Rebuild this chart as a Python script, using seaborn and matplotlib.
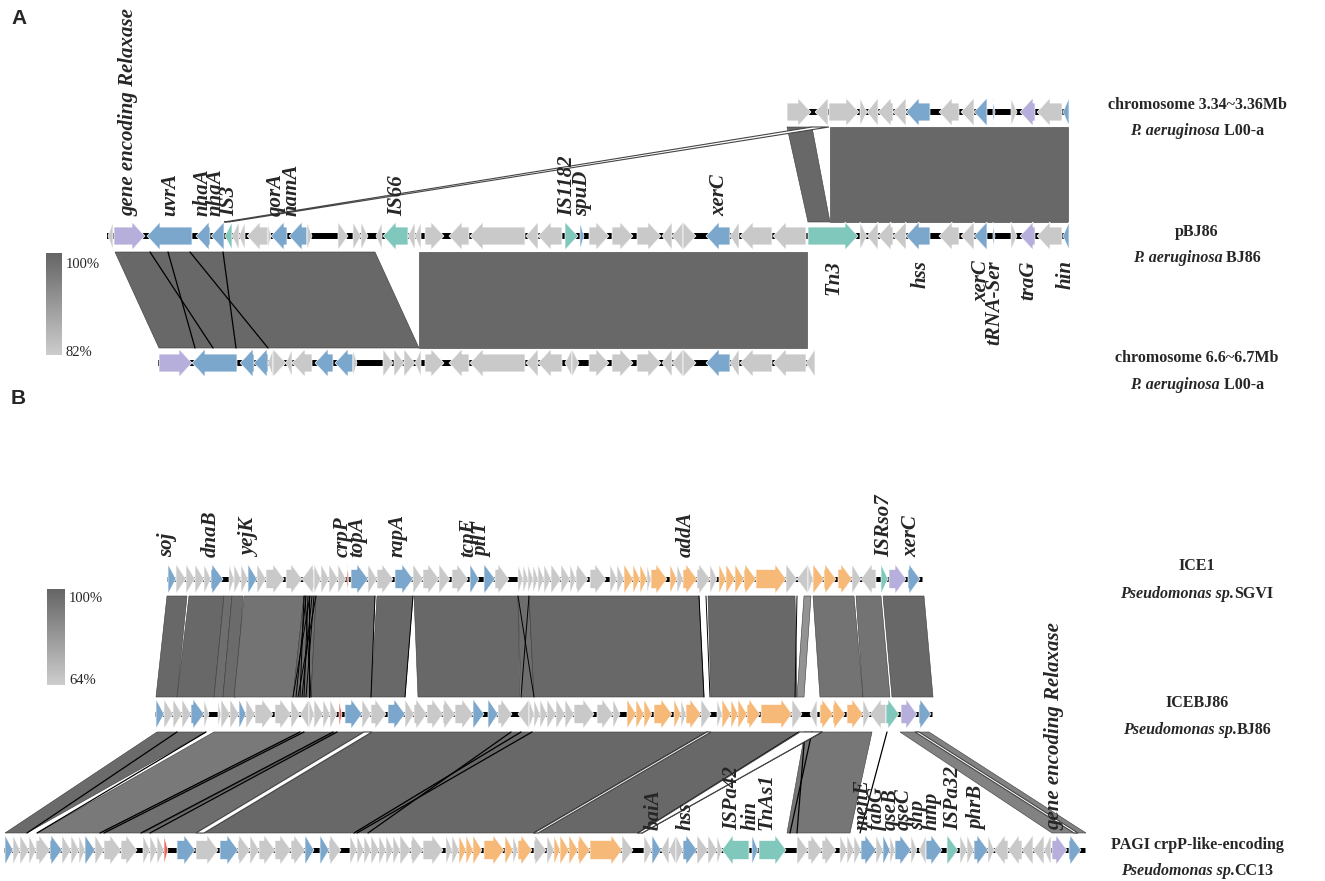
import numpy as np
import matplotlib
matplotlib.use('Agg')
import matplotlib.pyplot as plt
import seaborn as sns
from matplotlib.patches import Polygon
from matplotlib.colors import LinearSegmentedColormap, Normalize

sns.set_theme(style='white')
plt.rcParams['font.family'] = ['Liberation Serif', 'DejaVu Serif']

# ---------------- colours by gene class ----------------
kind_colors = {'g': '#c9c9c9', 'b': '#7ba7cd', 'p': '#b6aedb',
               't': '#80c8bb', 'o': '#f7b977', 'r': '#ea6a5c'}

# ---------------- Panel A genes: (start, end, strand, class) ----------------
A1_genes = [(787, 811, 1, 'g'), (815, 828, -1, 'g'), (829, 859, 1, 'g'),
            (860, 867, 1, 'g'), (867, 878, -1, 'g'), (878, 893, -1, 'g'), (893, 906, -1, 'g'),
            (906, 930, -1, 'b'), (939, 959, -1, 'g'), (961, 974, -1, 'g'), (974, 987, -1, 'b'),
            (993, 995, 1, 'b'), (1011, 1017, 1, 'g'), (1020, 1035, -1, 'p'), (1037, 1062, -1, 'g'),
            (1063, 1069, -1, 'b')]

A2_genes = [(108, 113, -1, 'g'), (114, 145, 1, 'p'), (147, 192, -1, 'b'), (196, 210, -1, 'b'),
            (211, 224, -1, 'b'), (225, 232, -1, 't'), (232, 239, -1, 'g'), (239, 245, -1, 'g'),
            (247, 268, -1, 'g'), (268, 271, 1, 'g'), (271, 287, -1, 'b'), (289, 307, -1, 'b'),
            (307, 312, 1, 'g'), (338, 348, 1, 'g'), (353, 361, 1, 'g'), (361, 368, 1, 'g'),
            (376, 382, -1, 'g'), (383, 408, -1, 't'), (408, 415, -1, 'g'), (415, 421, -1, 'g'),
            (425, 444, 1, 'g'), (449, 469, -1, 'g'), (470, 525, -1, 'g'), (526, 538, -1, 'g'),
            (538, 562, -1, 'g'), (565, 578, 1, 't'), (580, 584, 1, 'b'), (589, 609, 1, 'g'),
            (612, 633, 1, 'g'), (637, 661, 1, 'g'), (662, 672, -1, 'g'), (672, 683, -1, 'g'),
            (683, 696, 1, 'g'), (706, 730, -1, 'b'), (730, 739, -1, 'g'), (740, 772, -1, 'g'),
            (773, 806, -1, 'g'), (808, 858, 1, 't'), (860, 867, 1, 'g'), (867, 878, -1, 'g'),
            (878, 893, -1, 'g'), (893, 906, -1, 'g'), (906, 930, -1, 'b'), (939, 959, -1, 'g'),
            (961, 974, -1, 'g'), (974, 987, -1, 'b'), (993, 995, 1, 'b'), (1011, 1017, 1, 'g'),
            (1020, 1035, -1, 'p'), (1037, 1062, -1, 'g'), (1063, 1069, -1, 'b')]

A3_genes = [(159, 192, 1, 'p'), (192, 237, -1, 'b'), (240, 254, -1, 'b'), (254, 268, -1, 'b'),
            (268, 273, -1, 'g'), (273, 286, 1, 'g'), (286, 292, -1, 'g'), (292, 312, -1, 'g'),
            (315, 333, -1, 'b'), (335, 353, -1, 'b'), (353, 357, 1, 'g'), (383, 393, 1, 'g'),
            (394, 404, 1, 'g'), (404, 415, 1, 'g'), (415, 421, -1, 'g'), (425, 444, 1, 'g'),
            (449, 469, -1, 'g'), (470, 525, -1, 'g'), (526, 538, -1, 'g'), (538, 562, -1, 'g'),
            (565, 572, -1, 'g'), (572, 579, 1, 'g'), (589, 609, 1, 'g'), (612, 633, 1, 'g'),
            (637, 661, 1, 'g'), (662, 672, -1, 'g'), (672, 683, -1, 'g'), (683, 696, 1, 'g'),
            (706, 730, -1, 'b'), (730, 739, -1, 'g'), (740, 772, -1, 'g'), (773, 806, -1, 'g'),
            (806, 815, -1, 'g')]

# ---------------- Panel B genes ----------------
B1_genes = [(168, 176, 1, 'b'), (176, 186, 1, 'g'), (186, 195, 1, 'g'), (195, 204, 1, 'g'),
            (204, 211, 1, 'g'), (211, 223, 1, 'b'), (229, 234, 1, 'g'), (234, 241, 1, 'g'),
            (241, 248, 1, 'g'), (248, 257, 1, 'b'), (257, 266, 1, 'g'), (266, 284, 1, 'g'),
            (286, 302, 1, 'g'), (302, 314, -1, 'g'), (314, 321, 1, 'g'), (321, 329, 1, 'g'),
            (329, 338, 1, 'g'), (338, 346, 1, 'g'), (347, 349, 1, 'r'), (351, 368, 1, 'b'),
            (368, 377, 1, 'g'), (377, 393, 1, 'g'), (395, 413, 1, 'b'), (413, 423, 1, 'g'),
            (423, 439, 1, 'g'), (439, 450, 1, 'g'), (452, 468, 1, 'g'), (470, 479, 1, 'b'),
            (484, 495, 1, 'b'), (495, 509, 1, 'g'), (518, 523, 1, 'g'), (523, 528, 1, 'g'),
            (528, 533, 1, 'g'), (533, 538, 1, 'g'), (538, 544, 1, 'g'), (544, 551, 1, 'g'),
            (551, 561, 1, 'g'), (561, 570, 1, 'g'), (570, 576, 1, 'g'), (576, 588, 1, 'g'),
            (590, 606, 1, 'g'), (610, 617, 1, 'g'), (617, 624, 1, 'g'), (624, 633, 1, 'o'),
            (633, 640, 1, 'o'), (640, 647, 1, 'o'), (647, 651, 1, 'g'), (651, 667, 1, 'o'),
            (670, 677, 1, 'o'), (677, 683, 1, 'g'), (683, 697, 1, 'o'), (697, 710, 1, 'g'),
            (710, 717, 1, 'g'), (719, 726, 1, 'o'), (726, 735, 1, 'o'), (735, 744, 1, 'o'),
            (744, 756, 1, 'o'), (756, 786, 1, 'o'), (786, 797, 1, 'g'), (797, 808, -1, 'g'),
            (808, 813, 1, 'g'), (813, 824, 1, 'o'), (824, 836, 1, 'o'), (838, 852, 1, 'o'),
            (852, 861, 1, 'g'), (861, 876, -1, 'g'), (881, 888, 1, 't'), (889, 906, 1, 'p'),
            (908, 920, 1, 'b')]

B2_genes = [(156, 164, 1, 'b'), (164, 173, 1, 'g'), (173, 182, 1, 'g'), (182, 191, 1, 'g'),
            (191, 204, 1, 'b'), (204, 209, 1, 'g'), (218, 221, 1, 'g'), (221, 230, 1, 'g'),
            (230, 239, 1, 'g'), (239, 246, 1, 'b'), (246, 255, 1, 'g'), (255, 273, 1, 'g'),
            (275, 291, 1, 'g'), (291, 300, 1, 'g'), (300, 309, -1, 'g'), (309, 314, 1, 'g'),
            (314, 323, 1, 'g'), (323, 330, 1, 'g'), (330, 337, 1, 'g'), (339, 342, 1, 'r'),
            (345, 362, 1, 'b'), (362, 371, 1, 'g'), (371, 386, 1, 'g'), (388, 405, 1, 'b'),
            (405, 414, 1, 'g'), (414, 427, 1, 'g'), (427, 443, 1, 'g'), (443, 455, 1, 'g'),
            (455, 473, 1, 'g'), (473, 484, 1, 'b'), (488, 498, 1, 'b'), (498, 512, 1, 'g'),
            (518, 529, -1, 'g'), (529, 534, 1, 'g'), (534, 540, 1, 'g'), (540, 547, 1, 'g'),
            (547, 556, 1, 'g'), (556, 565, 1, 'g'), (565, 574, 1, 'g'), (574, 594, 1, 'g'),
            (597, 613, 1, 'g'), (613, 620, 1, 'g'), (627, 636, 1, 'o'), (636, 644, 1, 'o'),
            (644, 652, 1, 'o'), (654, 672, 1, 'o'), (674, 681, 1, 'o'), (681, 686, 1, 'g'),
            (686, 701, 1, 'o'), (701, 711, 1, 'g'), (717, 722, 1, 'g'), (722, 731, 1, 'o'),
            (731, 738, 1, 'o'), (738, 747, 1, 'o'), (747, 760, 1, 'o'), (761, 792, 1, 'o'),
            (792, 802, 1, 'g'), (810, 817, -1, 'g'), (820, 833, 1, 'o'), (833, 845, 1, 'o'),
            (847, 863, 1, 'o'), (863, 870, 1, 'g'), (870, 886, -1, 'g'), (886, 899, 1, 't'),
            (901, 917, 1, 'p'), (919, 931, 1, 'b')]

B3_genes = [(5, 13, 1, 'b'), (13, 20, 1, 'g'), (20, 29, 1, 'g'), (29, 36, 1, 'g'), (36, 50, 1, 'g'),
            (50, 62, 1, 'b'), (62, 71, 1, 'g'), (71, 79, 1, 'g'), (79, 85, 1, 'g'), (85, 95, 1, 'b'),
            (95, 104, 1, 'g'), (104, 121, 1, 'g'), (121, 137, 1, 'g'), (143, 150, 1, 'g'),
            (150, 157, 1, 'g'), (157, 164, 1, 'g'), (164, 168, 1, 'r'), (177, 195, 1, 'b'),
            (196, 218, 1, 'g'), (220, 238, 1, 'b'), (238, 250, 1, 'g'), (250, 259, 1, 'g'),
            (259, 275, 1, 'g'), (275, 291, 1, 'g'), (291, 305, 1, 'g'), (305, 314, 1, 'b'),
            (320, 329, 1, 'b'), (329, 341, 1, 'g'), (350, 357, 1, 'g'), (357, 364, 1, 'g'),
            (364, 371, 1, 'g'), (371, 379, 1, 'g'), (379, 386, 1, 'g'), (386, 393, 1, 'g'),
            (393, 400, 1, 'g'), (400, 411, 1, 'g'), (411, 423, 1, 'g'), (423, 443, 1, 'g'),
            (446, 452, 1, 'g'), (452, 459, 1, 'g'), (459, 466, 1, 'o'), (466, 473, 1, 'o'),
            (473, 482, 1, 'o'), (484, 504, 1, 'o'), (505, 513, 1, 'o'), (513, 518, 1, 'g'),
            (518, 532, 1, 'o'), (534, 546, 1, 'g'), (547, 554, 1, 'g'), (554, 560, 1, 'o'),
            (560, 569, 1, 'o'), (569, 578, 1, 'o'), (578, 590, 1, 'o'), (590, 622, 1, 'o'),
            (622, 633, 1, 'g'), (644, 652, 1, 'g'), (652, 661, 1, 'b'), (661, 669, -1, 'g'),
            (669, 676, -1, 'g'), (676, 683, 1, 'g'), (683, 697, 1, 'b'), (697, 708, 1, 'g'),
            (708, 717, 1, 'g'), (717, 722, 1, 'g'), (722, 749, -1, 't'), (752, 758, 1, 'b'),
            (759, 786, 1, 't'), (797, 808, 1, 'g'), (808, 822, 1, 'g'), (822, 836, 1, 'g'),
            (840, 847, 1, 'g'), (847, 854, 1, 'g'), (854, 861, 1, 'g'), (861, 876, 1, 'b'),
            (876, 883, 1, 'g'), (883, 890, 1, 'b'), (890, 895, 1, 'g'), (895, 911, 1, 'b'),
            (911, 917, 1, 'g'), (919, 926, -1, 'g'), (926, 942, 1, 'b'), (947, 958, 1, 't'),
            (960, 967, 1, 'g'), (967, 974, 1, 'g'), (974, 988, 1, 'b'), (988, 994, 1, 'g'),
            (994, 1008, -1, 'g'), (1008, 1022, -1, 'g'), (1022, 1033, -1, 'g'), (1033, 1044, -1, 'g'),
            (1044, 1051, -1, 'g'), (1052, 1067, 1, 'p'), (1069, 1081, 1, 'b')]

# ---------------- homology links: (top_start, top_end, bottom_start, bottom_end, identity %) ----------------
A12_links = [(787, 812, 808, 830, 99.5), (830, 1068, 830, 1068, 99.5)]
A12_thin = [(812, 829, 224, 229)]
A23_links = [(115, 375, 159, 419, 99.5), (419, 807, 419, 807, 99.5)]
A23_lines = [(150, 213), (168, 195), (190, 268), (223, 236)]

B12_links = [(167, 187, 156, 177, 99), (189, 224, 177, 214, 99), (224, 232, 214, 223, 97),
             (232, 243, 223, 236, 98), (244, 304, 234, 293, 95), (304, 316, 293, 311, 97),
             (316, 375, 311, 371, 99), (377, 413, 371, 405, 99), (414, 518, 418, 520, 99),
             (518, 529, 521, 534, 97), (529, 699, 534, 704, 99), (708, 795, 711, 797, 99),
             (804, 811, 797, 804, 84), (813, 854, 820, 863, 95), (856, 881, 863, 890, 95),
             (883, 924, 892, 933, 99)]
B12_lines = [(304, 300), (306, 296), (308, 304), (310, 293), (312, 302), (314, 306), (316, 298),
             (309, 309), (305, 311), (518, 534), (529, 521), (699, 704), (706, 710), (797, 795),
             (375, 371), (413, 405)]

B23_links = [(157, 206, 5, 27, 98), (214, 300, 37, 100, 93), (300, 335, 100, 143, 96),
             (335, 364, 143, 196, 97), (372, 521, 204, 354, 99), (521, 707, 354, 534, 99),
             (711, 799, 538, 638, 99), (805, 872, 787, 850, 94), (900, 929, 1052, 1086, 90)]
B23_lines = [(177, 27), (206, 37), (300, 100), (304, 104), (333, 141), (337, 150), (521, 354),
             (511, 368), (532, 357), (707, 534), (799, 638), (822, 642), (805, 797), (812, 790),
             (887, 860)]
B23_thin = [(364, 372, 196, 204), (707, 711, 534, 538), (800, 822, 638, 642), (915, 919, 1074, 1078)]

# ---------------- labels ----------------
A_top_labels = [("gene encoding Relaxase", 128), ("uvrA", 170), ("nhaA", 203), ("nhaA", 216),
                ("IS3", 229), ("qorA", 276), ("namA", 292), ("IS66", 397), ("IS1182", 567),
                ("spuD", 582), ("xerC", 719)]
A_bottom_labels = [("Tn3", 833), ("hss", 921), ("xerC", 981), ("tRNA-Ser", 994), ("traG", 1028),
                   ("hin", 1066)]
B_top_labels = [("soj", 167), ("dnaB", 211), ("yejK", 250), ("crpP", 343), ("topA", 357),
                ("rapA", 398), ("tcpE", 468), ("pilT", 482), ("addA", 686), ("ISRso7", 884),
                ("xerC", 911)]
B3_labels = [("baiA", 654), ("hss", 686), ("ISPa42", 732), ("hin", 751), ("TnAs1", 766),
             ("menE", 863), ("fabG", 877), ("qseB", 891), ("qseC", 904), ("shp", 918),
             ("hmp", 932), ("ISPa32", 953), ("phrB", 977), ("gene encoding Relaxase", 1054)]

# right-hand track names: list of (text, italic?) pieces per line
track_names = [
    (105, [("chromosome 3.34~3.36Mb", False)]),
    (131, [("P. aeruginosa", True), (" L00-a", False)]),
    (232, [("pBJ86", False)]),
    (258, [("P. aeruginosa", True), (" BJ86", False)]),
    (358, [("chromosome 6.6~6.7Mb", False)]),
    (385, [("P. aeruginosa", True), (" L00-a", False)]),
    (566, [("ICE1", False)]),
    (594, [("Pseudomonas sp.", True), ("SGVI", False)]),
    (703, [("ICEBJ86", False)]),
    (730, [("Pseudomonas sp.", True), ("BJ86", False)]),
    (845, [("PAGI crpP-like-encoding", False)]),
    (871, [("Pseudomonas sp.", True), ("CC13", False)]),
]

# ---------------- figure ----------------
W, H = 1325, 881
fig = plt.figure(figsize=(W / 100, H / 100), dpi=100)
ax = fig.add_axes([0, 0, 1, 1])
ax.set_xlim(0, W)
ax.set_ylim(H, 0)
ax.axis('off')

grey_cmap = LinearSegmentedColormap.from_list('idgrey', ['#cdcdcd', '#656565'])


def draw_track(genes, x0, x1, yc, hh, head, lw_back):
    ax.plot([x0, x1], [yc, yc], color='black', lw=lw_back, solid_capstyle='butt', zorder=2)
    for s, e, strand, k in genes:
        L = e - s
        hd = min(head, L)
        bh = hh * 0.32
        top, bot = yc - hh / 2, yc + hh / 2
        if strand > 0:
            b = e - hd
            pts = [(s, yc - bh), (b, yc - bh), (b, top), (e, yc), (b, bot), (b, yc + bh), (s, yc + bh)]
            if hd >= L:
                pts = [(s, top), (e, yc), (s, bot)]
        else:
            b = s + hd
            pts = [(e, yc - bh), (b, yc - bh), (b, top), (s, yc), (b, bot), (b, yc + bh), (e, yc + bh)]
            if hd >= L:
                pts = [(e, top), (s, yc), (e, bot)]
        ax.add_patch(Polygon(pts, closed=True, facecolor=kind_colors[k], edgecolor='white',
                             lw=0.5, zorder=3))


def draw_links(links, ytop, ybot, norm):
    for t1, t2, b1, b2, ident in links:
        c = grey_cmap(norm(ident))
        ax.add_patch(Polygon([(t1, ytop), (t2, ytop), (b2, ybot), (b1, ybot)], closed=True,
                             facecolor=c, edgecolor='#3a3a3a', lw=0.4, zorder=1))


def draw_lines(lines, ytop, ybot, lw=0.9):
    for t, b in lines:
        ax.plot([t, b], [ytop, ybot], color='black', lw=lw, zorder=1.5)


def draw_thin(thin, ytop, ybot):
    for t1, t2, b1, b2 in thin:
        ax.add_patch(Polygon([(t1, ytop), (t2, ytop), (b2, ybot), (b1, ybot)], closed=True,
                             facecolor='white', edgecolor='#444444', lw=0.8, zorder=1.6))


def colorbar(x0, x1, y0, y1, vmin, norm, lab_x, lab_top_y, lab_bot_y):
    vals = np.linspace(100, vmin, 200).reshape(-1, 1)
    ax.imshow(vals, extent=(x0, x1, y1, y0), cmap=grey_cmap, norm=norm, aspect='auto',
              origin='upper', zorder=2)
    ax.text(lab_x, lab_top_y, "100%", fontsize=10.5, va='center', ha='left')
    ax.text(lab_x, lab_bot_y, f"{vmin}%", fontsize=10.5, va='center', ha='left')


normA = Normalize(82, 100)
normB = Normalize(64, 100)

# panel A
draw_links(A12_links, 127, 222, normA)
draw_thin(A12_thin, 127, 222)
draw_links(A23_links, 252, 348, normA)
draw_lines(A23_lines, 252, 348)
draw_track(A1_genes, 787, 1069, 112, 28, 13, 4.3)
draw_track(A2_genes, 107, 1069, 236, 28, 13, 4.3)
draw_track(A3_genes, 158, 815, 363, 28, 13, 4.3)
colorbar(46, 62, 253, 355, 82, normA, 66, 264, 352)

# panel B
draw_links(B12_links, 596, 697, normB)
draw_lines(B12_lines, 596, 697, lw=0.7)
draw_links(B23_links, 732, 833, normB)
draw_lines(B23_lines, 732, 833, lw=0.9)
draw_thin(B23_thin, 732, 833)
draw_track(B1_genes, 167, 922, 579, 30, 11, 3.6)
draw_track(B2_genes, 155, 932, 714, 30, 11, 3.6)
draw_track(B3_genes, 4, 1085, 850, 30, 11, 3.6)
colorbar(47, 65, 589, 685, 64, normB, 69, 598, 680)

ax.set_xlim(0, W)
ax.set_ylim(H, 0)

lab_kw = dict(fontsize=15, fontstyle='italic', fontweight='bold', rotation=90, ha='center', zorder=5)
for t, x in A_top_labels:
    ax.text(x, 216, t, va='bottom', **lab_kw)
for t, x in A_bottom_labels:
    ax.text(x, 260, t, va='top', **lab_kw)
for t, x in B_top_labels:
    ax.text(x, 557, t, va='bottom', **lab_kw)
for t, x in B3_labels:
    ax.text(x, 830, t, va='bottom', **lab_kw)

ax.text(11, 18, "A", fontsize=15, fontweight='bold', family='Liberation Sans', va='center', ha='left')
ax.text(11, 399, "B", fontsize=15, fontweight='bold', family='Liberation Sans', va='center', ha='left')

# mixed-style right-hand names, centred on x = 1197
renderer = fig.canvas.get_renderer()
xc = 1197
for y, parts in track_names:
    objs = []
    for s, it in parts:
        objs.append(ax.text(0, y, s, fontsize=11.5, fontweight='bold',
                            fontstyle='italic' if it else 'normal', va='center', ha='left'))
    widths = [o.get_window_extent(renderer).width for o in objs]
    x = xc - sum(widths) / 2
    for o, w in zip(objs, widths):
        o.set_x(x)
        x += w

fig.savefig('out.png', dpi=100)
